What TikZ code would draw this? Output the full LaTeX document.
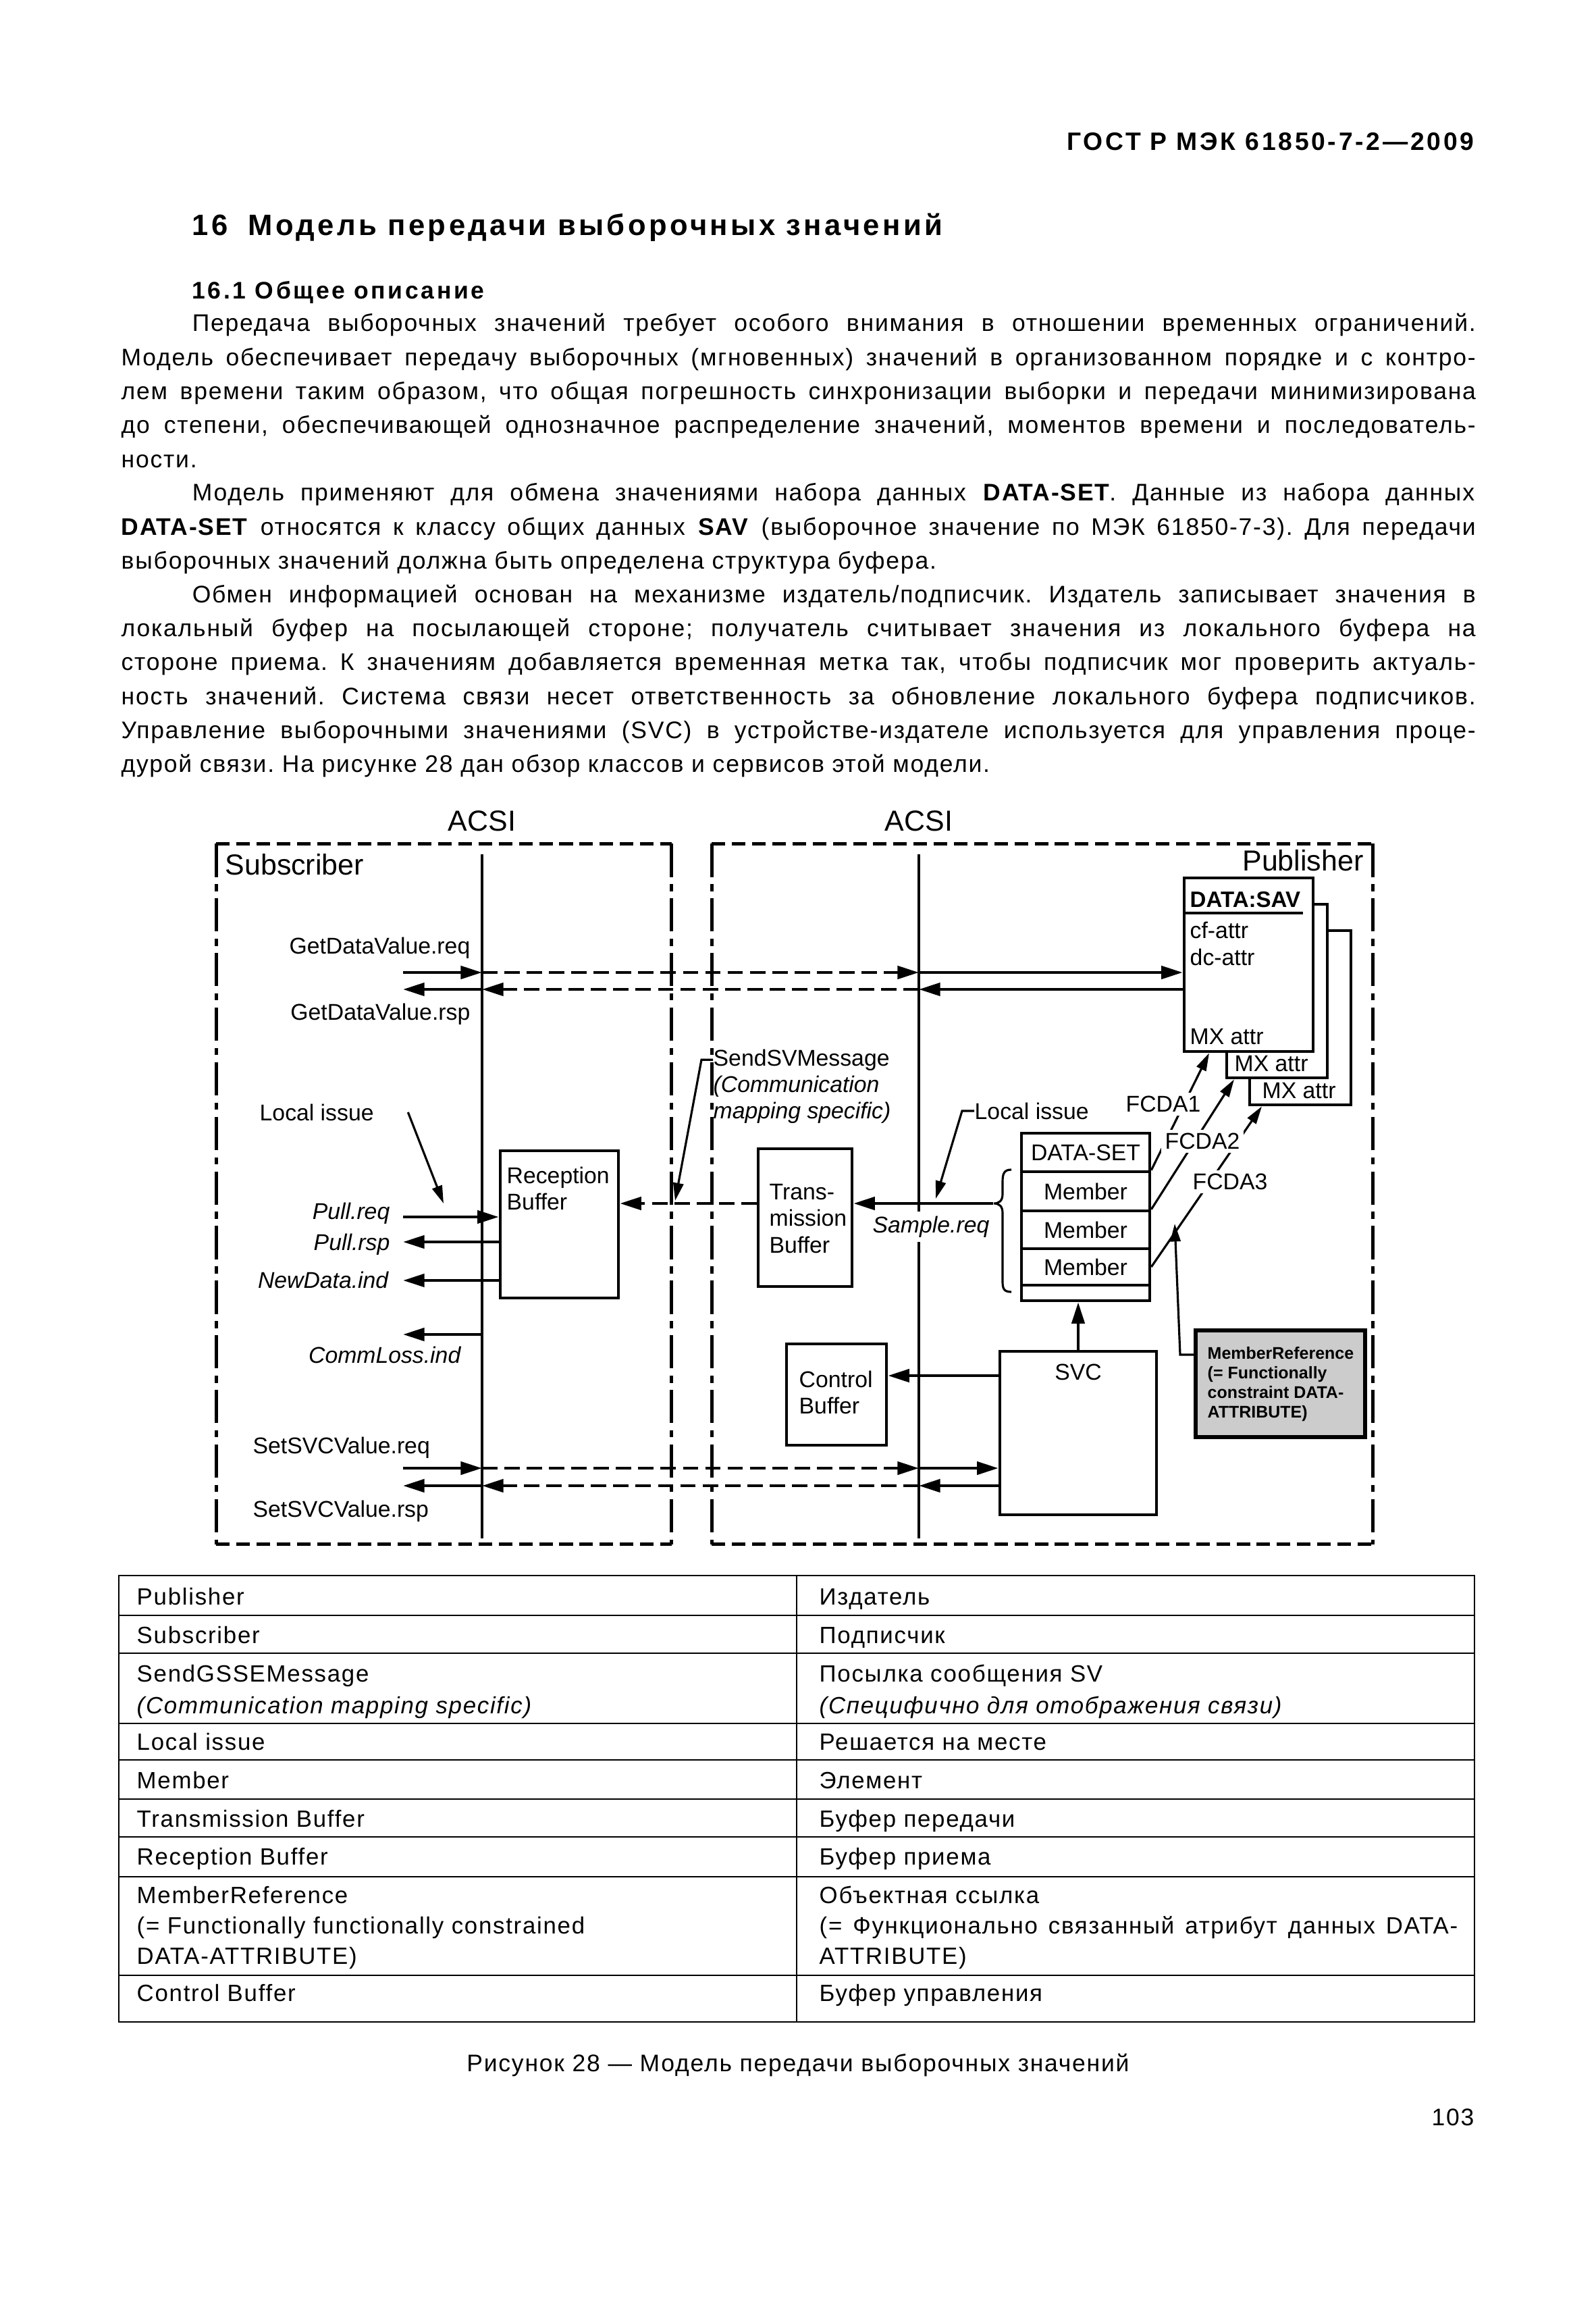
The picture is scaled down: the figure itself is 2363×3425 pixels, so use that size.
\documentclass[tikz,border=0pt]{standalone}
\usepackage{fontspec}
\setmainfont{Liberation Sans}
\newfontfamily\gost[LetterSpace=5]{Liberation Sans}
\newfontfamily\gosth[LetterSpace=10]{Liberation Sans}
\usetikzlibrary{arrows.meta,fit}
\hyphenpenalty=10000
\exhyphenpenalty=10000
\tolerance=10000
\frenchspacing

\begin{document}
\begin{tikzpicture}[x=0.01cm, y=-0.01cm,
    every node/.style={inner sep=0pt},
    dg/.style={font=\fontsize{9.6}{11.2}\selectfont},
    dgi/.style={font=\itshape\fontsize{9.6}{11.2}\selectfont},
    dgb/.style={font=\bfseries\fontsize{9.4}{11.2}\selectfont},
    big/.style={font=\fontsize{12.2}{14}\selectfont},
    txt/.style={font=\gost\fontsize{10.1}{14.3}\selectfont},
    tt/.style={font=\gost\fontsize{9.9}{12}\selectfont, anchor=base west},
    tti/.style={font=\gost\itshape\fontsize{9.9}{12}\selectfont, anchor=base west},
    box/.style={draw, line width=1.3pt, fill=white},
    arr/.style={line width=1.3pt, -{Triangle[length=9pt,width=5.4pt]}},
    darr/.style={arr, dash pattern=on 6.5pt off 2.9pt},
    lead/.style={line width=0.9pt, -{Triangle[length=7.5pt,width=4.3pt]}},
    hdash/.style={line width=1.3pt, dash pattern=on 5.7pt off 2.8pt},
    vdash/.style={line width=1.3pt, dash pattern=on 14pt off 3pt on 3pt off 3pt},
    tline/.style={line width=0.8pt}]

  \fill[white] (0,0) rectangle (2363,3425);

  % page text
  \node[font=\gosth\bfseries\fontsize{10.6}{12}\selectfont, anchor=base east] (hdr) at (2184,223) {ГОСТ Р МЭК 61850-7-2—2009};
  \node[font=\gosth\bfseries\fontsize{12.4}{15}\selectfont, anchor=base west] (ttl) at (284,349) {16\hspace{0.3cm}Модель передачи выборочных значений};
  \node[font=\gosth\bfseries\fontsize{10.1}{12}\selectfont, anchor=base west] (sttl) at (284,443) {16.1 Общее описание};

  \node[txt, anchor=north west, text width=20.05cm, align=justify] (para1) at (179,455)
    {\hspace*{1.05cm}\rule{0pt}{10pt}Передача выборочных значений требует особого внимания в отношении временных ограничений.\linebreak
     Модель обеспечивает передачу выборочных (мгновенных) значений в организованном порядке и с контро-\linebreak
     лем времени таким образом, что общая погрешность синхронизации выборки и передачи минимизирована\linebreak
     до степени, обеспечивающей однозначное распределение значений, моментов времени и последователь-\linebreak
     ности.};
  \node[txt, anchor=north west, text width=20.05cm, align=justify] (para2) at (179,706)
    {\hspace*{1.05cm}\rule{0pt}{10pt}Модель применяют для обмена значениями набора данных \textbf{DATA-SET}. Данные из набора данных\linebreak
     \textbf{DATA-SET} относятся к классу общих данных \textbf{SAV} (выборочное значение по МЭК 61850-7-3). Для передачи\linebreak
     выборочных значений должна быть определена структура буфера.};
  \node[txt, anchor=north west, text width=20.05cm, align=justify] (para3) at (179,856.5)
    {\hspace*{1.05cm}\rule{0pt}{10pt}Обмен информацией основан на механизме издатель/подписчик. Издатель записывает значения в\linebreak
     локальный буфер на посылающей стороне; получатель считывает значения из локального буфера на\linebreak
     стороне приема. К значениям добавляется временная метка так, чтобы подписчик мог проверить актуаль-\linebreak
     ность значений. Система связи несет ответственность за обновление локального буфера подписчиков.\linebreak
     Управление выборочными значениями (SVC) в устройстве-издателе используется для управления проце-\linebreak
     дурой связи. На рисунке 28 дан обзор классов и сервисов этой модели.};

  % frames and ACSI lines
  \node[big, anchor=base] (acsiL) at (714,1230) {ACSI};
  \node[big, anchor=base] (acsiR) at (1361,1230) {ACSI};
  \node[fit={(321,1250) (994,2286)}] (sub) {};
  \node[fit={(1055,1250) (2033,2286)}] (pub) {};
  \foreach \f in {sub,pub} {
    \draw[hdash] (\f.north west) -- (\f.north east);
    \draw[hdash] (\f.south west) -- (\f.south east);
    \draw[vdash] (\f.north west) -- (\f.south west);
    \draw[vdash] (\f.north east) -- (\f.south east);
  }
  \node[big, anchor=base west] (sublbl) at (333,1295) {Subscriber};
  \node[big, anchor=base east] (publbl) at (2020,1289) {Publisher};
  \coordinate (aLt) at (714,1265);
  \coordinate (aLb) at (714,2278);
  \coordinate (aRt) at (1361,1265);
  \coordinate (aRb) at (1361,2278);
  \draw[line width=1.4pt] (aLt) -- (aLb);
  \draw[line width=1.4pt] (aRt) -- (aRb);

  % DATA:SAV stack
  \node[box, fit={(1851,1378) (2001,1636)}] (sav3) {};
  \node[box, fit={(1817,1339) (1966,1596)}] (sav2) {};
  \node[box, fit={(1754,1300) (1945,1557)}] (sav) {};
  \coordinate (savu) at (1930,1352);
  \draw[line width=1pt] (sav.west |- savu) -- (savu);
  \node[dgb, anchor=base west] (savt) at (1762,1343) {DATA:SAV};
  \node[dg, anchor=base west] (cfa) at (1762,1389) {cf-attr};
  \node[dg, anchor=base west] (dca) at (1762,1429) {dc-attr};
  \node[dg, anchor=base west] (mx1) at (1762,1546) {MX attr};
  \node[dg, anchor=base west] (mx2) at (1828,1586) {MX attr};
  \node[dg, anchor=base west] (mx3) at (1869,1626) {MX attr};

  % DATA-SET
  \node[box, fit={(1513,1678) (1703,1735)}] (dshead) {};
  \node[box, fit={(1513,1735) (1703,1793)}] (mem1) {};
  \node[box, fit={(1513,1793) (1703,1849)}] (mem2) {};
  \node[box, fit={(1513,1849) (1703,1903)}] (mem3) {};
  \node[box, fit={(1513,1903) (1703,1926)}] (dsfoot) {};
  \node[dg] (dsheadt) at (dshead.center) {DATA-SET};
  \node[dg] (mem1t) at (mem1.center) {Member};
  \node[dg] (mem2t) at (mem2.center) {Member};
  \node[dg] (mem3t) at (mem3.center) {Member};
  \draw[line width=0.9pt] (1498,1732) .. controls (1487,1732) and (1485,1738) .. (1485,1750)
    -- (1485,1768) .. controls (1485,1778) and (1480,1782) .. (1472,1782)
    .. controls (1480,1782) and (1485,1786) .. (1485,1796)
    -- (1485,1898) .. controls (1485,1908) and (1487,1913) .. (1498,1913);

  % buffers and SVC
  \node[box, fit={(741,1704) (916,1922)}] (recv) {};
  \node[dg, anchor=north west, align=left] (recvt) at (750,1720) {\rule{0pt}{9pt}Reception\\Buffer};
  \node[box, fit={(1123,1701) (1262,1905)}] (trans) {};
  \node[dg, anchor=north west, align=left] (transt) at (1139,1744) {\rule{0pt}{9pt}Trans-\\mission\\Buffer};
  \node[box, fit={(1165,1990) (1313,2140)}] (ctrl) {};
  \node[dg, anchor=north west, align=left] (ctrlt) at (1183,2022) {\rule{0pt}{9pt}Control\\Buffer};
  \node[box, fit={(1481,2001) (1713,2243)}] (svc) {};
  \node[dg, anchor=base] (svct) at (1597,2043) {SVC};
  \node[box, fill=gray!40, line width=1.5pt, fit={(1771,1970) (2022,2128)}] (mref) {};
  \node[anchor=north west, align=left, font=\bfseries\fontsize{7.1}{8.3}\selectfont] (mreft) at (1788,1987)
    {\rule{0pt}{7pt}MemberReference\\(= Functionally\\constraint DATA-\\ATTRIBUTE)};

  % GetDataValue
  \coordinate (gdq) at (597,1440);
  \draw[arr] (gdq) -- (gdq -| aLt);
  \draw[darr] (gdq -| aLt) -- (gdq -| aRt);
  \draw[arr] (gdq -| aRt) -- (gdq -| sav.west);
  \coordinate (gdp) at (597,1465);
  \draw[arr] (gdp -| sav.west) -- (gdp -| aRt);
  \draw[darr] (gdp -| aRt) -- (gdp -| aLt);
  \draw[arr] (gdp -| aLt) -- (gdp);
  \node[dg, anchor=base east] (gdqt) at (697,1412) {GetDataValue.req};
  \node[dg, anchor=base east] (gdpt) at (697,1510) {GetDataValue.rsp};

  % SetSVCValue
  \coordinate (ssq) at (597,2174);
  \draw[arr] (ssq) -- (ssq -| aLt);
  \draw[darr] (ssq -| aLt) -- (ssq -| aRt);
  \draw[arr] (ssq -| aRt) -- (ssq -| svc.west);
  \coordinate (ssp) at (597,2200);
  \draw[arr] (ssp -| svc.west) -- (ssp -| aRt);
  \draw[darr] (ssp -| aRt) -- (ssp -| aLt);
  \draw[arr] (ssp -| aLt) -- (ssp);
  \node[dg, anchor=base west] (ssqt) at (374,2152) {SetSVCValue.req};
  \node[dg, anchor=base west] (sspt) at (374,2246) {SetSVCValue.rsp};

  % subscriber side services
  \coordinate (plq) at (597,1802);
  \draw[arr] (plq) -- (plq -| recv.west);
  \coordinate (plp) at (597,1839);
  \draw[arr] (plp -| recv.west) -- (plp);
  \coordinate (ndi) at (597,1896);
  \draw[arr] (ndi -| recv.west) -- (ndi);
  \coordinate (cli) at (597,1976);
  \draw[arr] (cli -| aLt) -- (cli);
  \node[dgi, anchor=base east] (plqt) at (578,1805) {Pull.req};
  \node[dgi, anchor=base east] (plpt) at (578,1851) {Pull.rsp};
  \node[dgi, anchor=base east] (ndit) at (576,1907) {NewData.ind};
  \node[dgi, anchor=base east] (clit) at (683,2018) {CommLoss.ind};

  % sampling path
  \coordinate (smp) at (1471,1782);
  \draw[arr] (smp) -- (smp -| trans.east);
  \draw[darr] (smp -| trans.west) -- (smp -| recv.east);
  \node[dgi, anchor=base, fill=white, inner sep=2pt] (smpt) at (1379,1825) {Sample.req};
  \coordinate (cba) at (1400,2037);
  \draw[arr] (cba -| svc.west) -- (cba -| ctrl.east);
  \draw[arr] (svc.north) -- (svc.north |- dsfoot.south);

  % local issue and SendSVMessage leaders
  \node[dg, anchor=base west] (loc1) at (384,1659) {Local issue};
  \coordinate (loc1b) at (657,1782);
  \draw[lead] ([xshift=0.5cm]loc1.east) -- (loc1b);
  \node[dg, anchor=base west] (loc2) at (1443,1657) {Local issue};
  \coordinate (loc2b) at (1386,1775);
  \draw[lead] (loc2.west) -- ++(-18,0) -- (loc2b);
  \node[dg, anchor=base west] (ssv) at (1056,1578) {SendSVMessage};
  \node[dgi, anchor=north west, align=left] (ssvb) at (1056,1585) {\rule{0pt}{9pt}(Communication\\mapping specific)};
  \coordinate (ssvtip) at (1000,1778);
  \draw[lead] (ssv.west) -- ++(-17,0) -- (ssvtip);

  % FCDA references
  \coordinate (f1) at (1791,0);
  \coordinate (f2) at (1828,0);
  \coordinate (f3) at (1869,0);
  \draw[lead] (mem1.north east) -- (f1 |- sav.south);
  \draw[lead] (mem2.north east) -- (f2 |- sav2.south);
  \draw[lead] (mem3.east) -- (f3 |- sav3.south);
  \node[dg, fill=white, inner sep=1.5pt] (fcda1) at (1723,1635) {FCDA1};
  \node[dg, fill=white, inner sep=1.5pt] (fcda2) at (1781,1690) {FCDA2};
  \node[dg, fill=white, inner sep=1.5pt] (fcda3) at (1822,1750) {FCDA3};
  \coordinate (mrk) at (1748,2006);
  \coordinate (mrt) at (1740,1812);
  \draw[lead] (mref.west |- mrk) -- (mrk) -- (mrt);

  % legend table
  \draw[tline] (176,2333) rectangle (2184,2994);
  \foreach \yy in {2392,2448,2552,2606,2664,2720,2779,2925}
    \draw[tline] (176,\yy) -- (2184,\yy);
  \draw[tline] (1180,2333) -- (1180,2994);
  \foreach \n/\yy/\lt/\rt in {1/2376/Publisher/Издатель, 2/2433/Subscriber/Подписчик,
      4/2591/Local issue/Решается на месте, 5/2648/Member/Элемент,
      6/2705/Transmission Buffer/Буфер передачи, 7/2761/Reception Buffer/Буфер приема,
      9/2963/Control Buffer/Буфер управления} {
    \node[tt] (tl\n) at (202,\yy) {\lt};
    \node[tt] (tr\n) at (1213,\yy) {\rt};
  }
  \node[tt] (tl3a) at (202,2490) {SendGSSEMessage};
  \node[tti] (tl3b) at (202,2537) {(Communication mapping specific)};
  \node[tt] (tr3a) at (1213,2490) {Посылка сообщения SV};
  \node[tti] (tr3b) at (1213,2537) {(Специфично для отображения связи)};
  \node[tt] (tl8a) at (202,2818) {MemberReference};
  \node[tt] (tl8b) at (202,2863) {(= Functionally functionally constrained};
  \node[tt] (tl8c) at (202,2908) {DATA-ATTRIBUTE)};
  \node[tt] (tr8a) at (1213,2818) {Объектная ссылка};
  \node[tt] (tr8b) at (1213,2863) {\makebox[9.45cm][s]{(= Функционально связанный атрибут данных DATA-}};
  \node[tt] (tr8c) at (1213,2908) {ATTRIBUTE)};

  \node[txt, anchor=base] (cap) at (1182,3067) {Рисунок 28 — Модель передачи выборочных значений};
  \node[txt, anchor=base east] (pgn) at (2184,3147) {103};
\end{tikzpicture}
\end{document}
